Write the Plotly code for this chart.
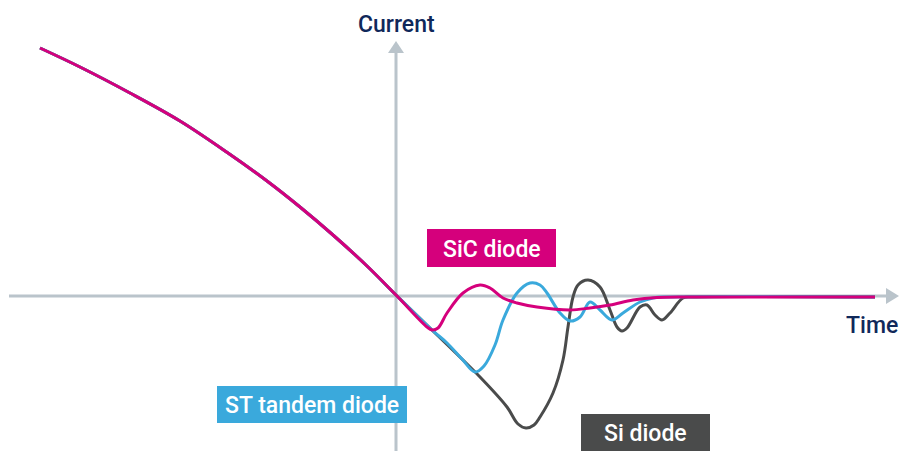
import plotly.graph_objects as go

# Shared turn-off slope before the current crosses zero (time, current in a.u.)
descent_time = [-3.56, -3.16, -2.66, -2.16, -1.68, -1.29, -0.96, -0.63, -0.29, 0.00]
descent_current = [2.48, 2.29, 2.03, 1.75, 1.43, 1.15, 0.89, 0.61, 0.30, 0.01]

# SiC diode: shallow reverse recovery
sic_time = [0.31, 0.36, 0.42, 0.51, 0.67, 0.84, 0.94, 1.07, 1.21, 1.41, 1.74,
            1.94, 2.14, 2.37, 2.61, 2.94, 4.79]
sic_current = [-0.31, -0.34, -0.32, -0.17, 0.03, 0.11, 0.08, -0.02, -0.07, -0.11,
               -0.14, -0.12, -0.09, -0.04, -0.015, -0.01, -0.01]

# ST tandem diode: medium recovery with a short ring
st_time = [0.36, 0.51, 0.66, 0.79, 0.88, 0.99, 1.07, 1.21, 1.34, 1.44, 1.51, 1.64,
           1.74, 1.84, 1.94, 2.04, 2.16, 2.27, 2.44, 2.57, 2.71, 4.79]
st_current = [-0.34, -0.47, -0.63, -0.76, -0.70, -0.49, -0.24, 0.03, 0.13, 0.11,
              0.03, -0.17, -0.25, -0.21, -0.06, -0.14, -0.24, -0.17, -0.06, -0.02,
              -0.01, -0.01]

# Si diode: deep recovery followed by ringing
si_time = [0.36, 0.84, 1.11, 1.22, 1.30, 1.38, 1.44, 1.57, 1.67, 1.72, 1.77, 1.82,
           1.92, 2.04, 2.14, 2.21, 2.26, 2.31, 2.44, 2.51, 2.59, 2.66, 2.74, 2.87,
           2.97, 4.79]
si_current = [-0.34, -0.81, -1.11, -1.28, -1.32, -1.29, -1.21, -0.97, -0.64, -0.31,
              -0.01, 0.11, 0.16, 0.09, -0.14, -0.31, -0.35, -0.32, -0.11, -0.09,
              -0.19, -0.24, -0.17, -0.02, -0.01, -0.01]

series = [
    ("Si diode", si_time, si_current, "#4a4b4b"),
    ("ST tandem diode", st_time, st_current, "#3aa9dc"),
    ("SiC diode", sic_time, sic_current, "#d5007c"),
]

W, H = 901, 451
X0, X1 = -3.96, 5.05
Y0, Y1 = -1.55, 2.96
AXIS = "#bac4cb"
NAVY = "#10285a"
FONT = "Roboto, sans-serif"


def px(x):
    return x / W


def py(y):
    return 1 - y / H


fig = go.Figure()

shapes = [
    # time axis with arrowhead
    dict(type="line", xref="x", yref="y", x0=-3.87, x1=4.90, y0=0, y1=0,
         line=dict(color=AXIS, width=3), layer="below"),
    dict(type="path", xref="paper", yref="paper",
         path=f"M {px(886)},{py(288)} L {px(899)},{py(296)} L {px(886)},{py(304)} Z",
         fillcolor=AXIS, line=dict(width=0), layer="below"),
    # current axis with arrowhead
    dict(type="line", xref="x", yref="y", x0=0, x1=0, y0=Y0, y1=2.43,
         line=dict(color=AXIS, width=3), layer="below"),
    dict(type="path", xref="paper", yref="paper",
         path=f"M {px(388)},{py(53)} L {px(396)},{py(41)} L {px(404)},{py(53)} Z",
         fillcolor=AXIS, line=dict(width=0), layer="below"),
]

for name, t, i, color in series:
    fig.add_trace(go.Scatter(
        x=descent_time + t, y=descent_current + i, mode="lines", name=name,
        line=dict(color=color, width=3, shape="spline", smoothing=1.0),
        hoverinfo="skip", showlegend=False,
    ))

# label boxes for the three diodes
boxes = [
    ("SiC diode", 427, 556, 229, 267, "#d5007c"),
    ("ST tandem diode", 217, 407, 386, 423, "#3aa9dc"),
    ("Si diode", 581, 710, 414, 451, "#4a4b4b"),
]
annotations = []
for text, xa, xb, ya, yb, color in boxes:
    shapes.append(dict(type="rect", xref="paper", yref="paper",
                       x0=px(xa), x1=px(xb), y0=py(yb), y1=py(ya),
                       fillcolor=color, line=dict(width=0), layer="above"))
    annotations.append(dict(text=text, xref="paper", yref="paper",
                            x=px((xa + xb) / 2), y=py((ya + yb) / 2 + 1),
                            xanchor="center", yanchor="middle", showarrow=False,
                            font=dict(family=FONT, size=23, color="white",
                                      weight=500)))

annotations += [
    dict(text="Current", xref="paper", yref="paper", x=px(396), y=py(24),
         xanchor="center", yanchor="middle", showarrow=False,
         font=dict(family=FONT, size=23, color=NAVY, weight=500)),
    dict(text="Time", xref="paper", yref="paper", x=px(900), y=py(325),
         xanchor="right", yanchor="middle", showarrow=False,
         font=dict(family=FONT, size=23, color=NAVY, weight=500)),
]

fig.update_layout(
    width=W, height=H,
    margin=dict(l=0, r=0, t=0, b=0),
    paper_bgcolor="white", plot_bgcolor="white",
    xaxis=dict(range=[X0, X1], visible=False, fixedrange=True),
    yaxis=dict(range=[Y0, Y1], visible=False, fixedrange=True),
    shapes=shapes, annotations=annotations,
)

fig.write_html("out.html")
